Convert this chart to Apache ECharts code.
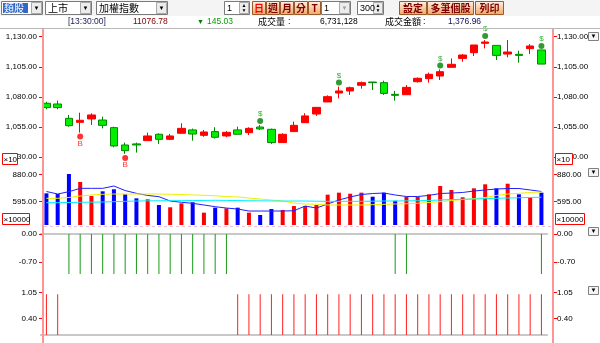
<!DOCTYPE html>
<html><head><meta charset="utf-8">
<script src="https://cdn.jsdelivr.net/npm/echarts@6/dist/echarts.min.js"></script>
<style>html,body{margin:0;padding:0;background:#fff}#c{width:600px;height:343px}</style>
</head><body><div id="c"></div>
<script>
// ---- data ----
const opens  = [1074.8,1074.2,1062.3,1059.0,1061.8,1060.9,1054.6,1040.2,1041.1,1043.8,1049.1,1044.9,1049.9,1052.7,1048.2,1051.3,1047.7,1052.7,1050.4,1055.1,1053.2,1042.2,1051.3,1058.7,1065.9,1075.9,1083.3,1085.0,1089.7,1092.4,1091.9,1082.2,1081.9,1092.7,1095.2,1097.4,1104.6,1112.0,1116.7,1124.5,1122.8,1115.6,1115.4,1120.1,1119.0];
const closes = [1071.2,1071.2,1056.2,1060.7,1065.1,1056.5,1039.4,1035.5,1040.2,1047.7,1044.9,1047.7,1054.0,1049.3,1051.0,1046.6,1050.7,1049.1,1054.0,1053.5,1042.2,1049.1,1056.5,1064.3,1071.4,1080.3,1085.0,1087.7,1091.9,1091.9,1083.0,1081.4,1088.0,1095.5,1098.8,1101.0,1107.1,1114.8,1123.1,1125.6,1114.5,1117.3,1114.5,1122.3,1107.3];
const lows   = [1069.8,1069.8,1055.4,1050.5,1056.8,1054.0,1038.3,1032.8,1033.9,1043.8,1041.1,1044.3,1049.9,1043.8,1047.0,1045.5,1046.7,1049.1,1048.5,1052.7,1041.1,1042.2,1051.3,1058.7,1064.3,1075.9,1078.9,1081.7,1086.9,1085.8,1081.7,1077.0,1081.9,1091.9,1091.9,1094.1,1104.6,1109.3,1114.0,1120.3,1110.7,1112.9,1108.5,1115.6,1107.3];
const highs  = [1076.1,1077.0,1065.1,1067.0,1066.5,1063.7,1055.4,1042.2,1042.2,1050.4,1049.9,1049.4,1058.2,1053.8,1052.7,1054.9,1051.8,1055.4,1054.9,1056.8,1053.8,1049.9,1059.6,1066.5,1071.4,1081.4,1088.6,1088.6,1092.8,1092.4,1093.5,1085.0,1089.9,1096.3,1100.2,1102.9,1112.0,1115.6,1123.1,1127.2,1122.8,1127.2,1118.4,1123.9,1119.0];
const volumes = [682,675,883,800,654,703,724,672,630,620,561,537,578,589,481,533,526,533,481,457,519,509,550,550,561,668,689,678,689,647,689,605,647,644,672,758,717,641,734,776,734,782,672,641,689];
const volMA5  = [701,675,699,734,734,734,758,711,682,660,647,602,589,578,561,543,529,519,498,498,498,498,501,550,529,571,613,644,670,680,685,665,649,649,660,680,685,691,706,717,727,732,732,717,701];
const volMA10 = [630,630,639,654,665,672,675,675,675,675,675,672,670,665,662,656,649,644,633,623,613,602,581,571,568,561,561,561,561,564,568,571,574,578,587,595,607,618,626,639,660,675,682,691,696];
const volMA20 = [585,585,587,589,590,592,595,599,602,604,605,605,606,607,608,610,608,607,605,604,603,602,602,602,600,599,599,599,599,600,602,602,604,605,608,613,617,620,623,627,630,633,636,639,641];
const sellSignal = [0,0,-1,-1,-1,-1,-1,-1,-1,-1,-1,-1,-1,-1,-1,-1,-1,0,0,0,0,0,0,0,0,0,0,0,0,0,0,-1,-1,0,0,0,0,0,0,0,0,0,0,0,-1];
const buySignal  = [1,1,0,0,0,0,0,0,0,0,0,0,0,0,0,0,0,1,1,1,1,1,1,1,1,1,1,1,1,1,1,1,1,1,1,1,1,1,1,1,1,1,1,1,1];
const sellMarks = [19,26,35,39,44];
const buyMarks  = [3,7];
const priceTicks = [1030,1055,1080,1105,1130];
const volTicks   = [595,880];
const sig1Ticks  = [0,-0.7];
const sig2Ticks  = [0.4,1.05];
const categories = opens.map((_, i) => String(i + 1));

// ---- helpers ----
const fmt = v => Number(v).toLocaleString('en-US', {minimumFractionDigits: 2, maximumFractionDigits: 2});
const CJK = '"Noto Sans CJK TC","Noto Sans CJK SC",sans-serif';
const SANS = '"Liberation Sans",Arial,sans-serif';

function yAx(gi, min, max, ticks, side) {
  return {
    type: 'value', gridIndex: gi, position: side, min: min, max: max,
    offset: side === 'left' ? -2.2 : 6,
    axisLine: {show: false}, splitLine: {show: false},
    axisTick: {show: true, length: 4, lineStyle: {color: '#ff0000'}, customValues: ticks},
    axisLabel: {customValues: ticks, formatter: fmt, color: '#000', fontSize: 8, fontFamily: SANS, margin: side === 'left' ? 6 : 4}
  };
}
function xAx(gi, showLine) {
  return {
    type: 'category', gridIndex: gi, data: categories, boundaryGap: true,
    axisLabel: {show: false}, axisTick: {show: false}, splitLine: {show: false},
    axisLine: {show: showLine, onZero: true, lineStyle: {color: '#c8c8c8', width: 2}}
  };
}
function rect(x, y, w, h, fill, stroke, z) {
  return {type: 'rect', shape: {x: x, y: y, width: w, height: h}, style: {fill: fill, stroke: stroke || null, lineWidth: 1}, z: z || 100, silent: true};
}
function txt(x, y, t, o) {
  return {type: 'text', x: x, y: y, z: 102, silent: true,
    style: Object.assign({text: t, fill: '#000', fontSize: 10, fontFamily: CJK, verticalAlign: 'middle', align: 'left'}, o || {})};
}
const btnFill = {type: 'linear', x: 0, y: 0, x2: 0, y2: 1, colorStops: [{offset: 0, color: '#fff4e8'}, {offset: 1, color: '#f3a461'}]};
function button(x, w, label, color) {
  return [
    rect(x + 0.5, 1.5, w, 13, btnFill, '#9a5a2a'),
    txt(x + 0.5 + w / 2, 8.5, label, {align: 'center', fill: color || '#800000', fontSize: 10, fontWeight: 'bold'})
  ];
}
function select(x, w, label, highlight, arrowColor) {
  const g = [rect(x + 0.5, 1.5, w, 13, '#fff', '#7a7a7a')];
  if (highlight) g.push(rect(x + 2, 3, 25, 10, '#3169c6', null, 101));
  g.push(txt(x + 3, 8.5, label, {fill: highlight ? '#fff' : '#000', fontFamily: /^[0-9]/.test(label) ? SANS : CJK, fontSize: /^[0-9]/.test(label) ? 9 : 10}));
  g.push(rect(x + w - 10.5, 2.5, 10, 11, '#ececec', '#a8a8a8', 101));
  g.push(txt(x + w - 5.5, 8.5, '▼', {align: 'center', fontSize: 6, fill: arrowColor || '#000', fontFamily: SANS}));
  return g;
}
function spinner(x, w, label) {
  return [
    rect(x + 0.5, 1.5, w, 13, '#fff', '#7a7a7a'),
    txt(x + 3, 8.5, label, {fontFamily: SANS, fontSize: 9}),
    rect(x + w - 9.5, 2.5, 9, 11, '#ececec', '#a8a8a8', 101),
    txt(x + w - 5, 5.6, '▲', {align: 'center', fontSize: 5, fontFamily: SANS}),
    txt(x + w - 5, 11, '▼', {align: 'center', fontSize: 5, fontFamily: SANS})
  ];
}
function multBox(x, y, w, label) {
  return [rect(x + 0.5, y + 0.5, w, 11, '#fff', '#ff0000', 110),
          Object.assign(txt(x + 1.5, y + 6.5, label, {fontFamily: SANS, fontSize: 8}), {z: 111})];
}
function icon(y) {
  return [rect(588.5, y + 0.5, 10, 8, '#f4f4f4', '#808080', 110),
          Object.assign(txt(593.5, y + 4.5, '▼', {align: 'center', fontSize: 6, fontFamily: SANS}), {z: 111})];
}

const graphics = [].concat(
  [rect(0, 0, 600, 16, '#f4f4f4', null, 99),
   {type: 'line', shape: {x1: 0, y1: 28.5, x2: 600, y2: 28.5}, style: {stroke: '#b8b8b8', lineWidth: 1}, z: 100, silent: true}],
  select(1, 41, '類股', true),
  select(45, 46, '上市'),
  select(96, 71, '加權指數'),
  spinner(224, 25, '1'),
  button(252, 13, '日', '#ff0000'),
  button(266, 13, '週'),
  button(280, 13, '月'),
  button(294, 13, '分'),
  button(308, 12, 'T'),
  select(321, 29, '1', false, '#a0a0a0'),
  spinner(357, 26, '300'),
  button(399, 27, '設定'),
  button(427, 46, '多筆個股'),
  button(475, 28, '列印'),
  [
    txt(68, 22, '[13:30:00]', {fontFamily: SANS, fontSize: 8.5, fill: '#1a1a50'}),
    txt(133, 22, '11076.78', {fontFamily: SANS, fontSize: 8.5, fill: '#800000'}),
    txt(197, 22, '▼', {fontFamily: SANS, fontSize: 7, fill: '#008000'}),
    txt(207, 22, '145.03', {fontFamily: SANS, fontSize: 8.5, fill: '#00a000'}),
    txt(258, 22, '成交量', {fontSize: 9}),
    txt(288, 22, ':', {fontFamily: SANS, fontSize: 9}),
    txt(320, 22, '6,731,128', {fontFamily: SANS, fontSize: 8.5}),
    txt(385, 22, '成交金額', {fontSize: 9}),
    txt(423, 22, ':', {fontFamily: SANS, fontSize: 9}),
    txt(448, 22, '1,376.96', {fontFamily: SANS, fontSize: 8.5, fill: '#101060'}),
    {type: 'line', shape: {x1: 43, y1: 29, x2: 43, y2: 343}, style: {stroke: '#ff9494', lineWidth: 2}, z: 90, silent: true},
    {type: 'line', shape: {x1: 553, y1: 29, x2: 553, y2: 343}, style: {stroke: '#ff9494', lineWidth: 2}, z: 90, silent: true},
    {type: 'line', shape: {x1: 44, y1: 226.5, x2: 552, y2: 226.5}, style: {stroke: '#e8c4dc', lineWidth: 1, lineDash: [3, 3]}, z: 90, silent: true}
  ],
  multBox(2, 153, 15, '×10'),
  multBox(555, 153, 17, '×10'),
  multBox(2, 213, 27, '×10000'),
  multBox(555, 213, 29, '×10000'),
  icon(32), icon(168), icon(227), icon(286)
);

const grids = [
  {left: 40.8, right: 52.95, top: 30, height: 132},
  {left: 40.8, right: 52.95, top: 165, height: 60},
  {left: 40.8, right: 52.95, top: 228, height: 57},
  {left: 40.8, right: 52.95, top: 288, height: 49}
];

const option = {
  animation: false,
  backgroundColor: '#fff',
  grid: grids,
  xAxis: [xAx(0, false), xAx(1, false), xAx(2, true), xAx(3, true)],
  yAxis: [
    yAx(0, 1026.1, 1135.55, priceTicks, 'left'), yAx(0, 1026.1, 1135.55, priceTicks, 'right'),
    yAx(1, 352.7, 976.7, volTicks, 'left'), yAx(1, 352.7, 976.7, volTicks, 'right'),
    yAx(2, -1.275, 0.15, sig1Ticks, 'left'), yAx(2, -1.275, 0.15, sig1Ticks, 'right'),
    yAx(3, -0.05, 1.156, sig2Ticks, 'left'), yAx(3, -0.05, 1.156, sig2Ticks, 'right')
  ],
  series: [
    {type: 'candlestick', xAxisIndex: 0, yAxisIndex: 0, barWidth: 8,
     data: opens.map((o, i) => [o, closes[i], lows[i], highs[i]]),
     itemStyle: {color: '#ff0000', color0: '#00f000', borderColor: '#ff0000', borderColor0: '#008800', borderWidth: 1}},
    {type: 'scatter', xAxisIndex: 0, yAxisIndex: 0, clip: false, symbolSize: 6, symbolOffset: [0, -4],
     data: sellMarks.map(i => [i, highs[i]]), itemStyle: {color: '#008000'},
     label: {show: true, position: 'top', distance: 0, formatter: '$', color: '#00a000', fontSize: 8, fontFamily: SANS}},
    {type: 'scatter', xAxisIndex: 0, yAxisIndex: 0, clip: false, symbolSize: 6, symbolOffset: [0, 4],
     data: buyMarks.map(i => [i, lows[i]]), itemStyle: {color: '#ff0000'},
     label: {show: true, position: 'bottom', distance: 0, formatter: 'B', color: '#ff0000', fontSize: 8, fontFamily: SANS}},
    {type: 'bar', xAxisIndex: 1, yAxisIndex: 2, barWidth: 4,
     data: volumes.map((v, i) => ({value: v, itemStyle: {color: closes[i] >= opens[i] ? '#ff0000' : '#0000ff'}}))},
    {type: 'line', xAxisIndex: 1, yAxisIndex: 2, data: volMA5, symbol: 'none', lineStyle: {color: '#2020ff', width: 1}},
    {type: 'line', xAxisIndex: 1, yAxisIndex: 2, data: volMA10, symbol: 'none', lineStyle: {color: '#f0f000', width: 1}},
    {type: 'line', xAxisIndex: 1, yAxisIndex: 2, data: volMA20, symbol: 'none', lineStyle: {color: '#00f0ff', width: 1}},
    {type: 'bar', xAxisIndex: 2, yAxisIndex: 4, barWidth: 1, data: sellSignal, itemStyle: {color: '#1a9a1a'}},
    {type: 'bar', xAxisIndex: 3, yAxisIndex: 6, barWidth: 1, data: buySignal, itemStyle: {color: '#ff2020'}}
  ],
  graphic: graphics
};

const chart = echarts.init(document.getElementById('c'), null, {renderer: 'canvas'});
chart.setOption(option);
</script>
</body></html>
